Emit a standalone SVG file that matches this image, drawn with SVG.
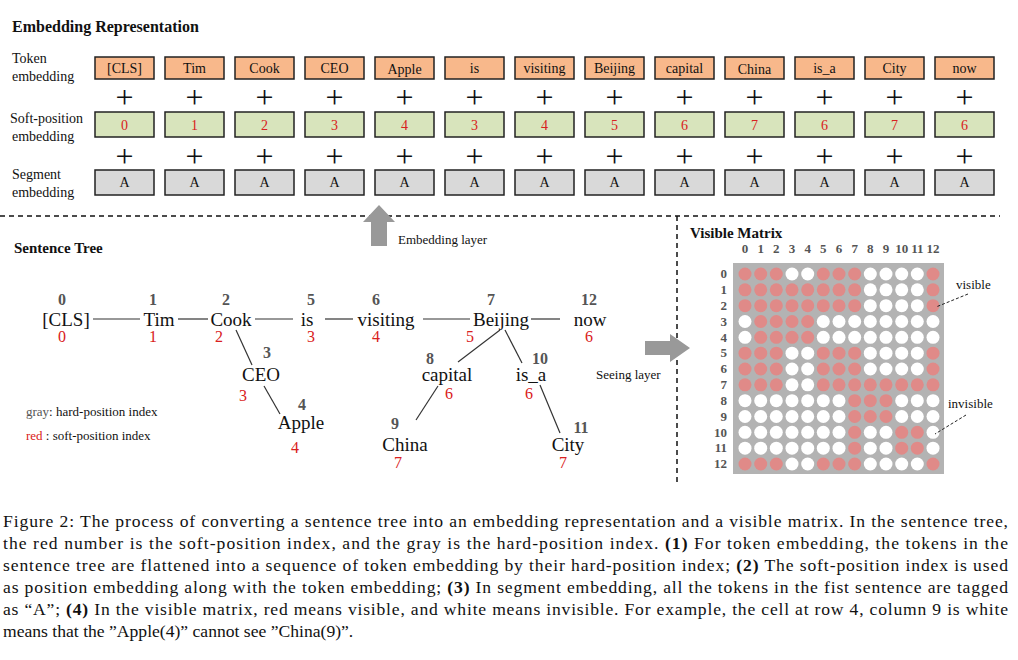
<svg xmlns="http://www.w3.org/2000/svg" width="1018" height="660" viewBox="0 0 1018 660">
<style>
text{font-family:"Liberation Serif",serif;fill:#111}
.b{font-weight:bold}
.tk{fill:#f8b88b;stroke:#222;stroke-width:1.5}
.sp{fill:#d8e4bc;stroke:#222;stroke-width:1.5}
.sg{fill:#d9d9d9;stroke:#222;stroke-width:1.5}
.bt{font-size:14px;text-anchor:middle}
.rd{fill:#d92020}
.gr{fill:#555;font-weight:bold}
.pl{font-size:32px;text-anchor:middle}
.ln{stroke:#333;stroke-width:1.2;fill:none}
.tn{font-size:19px;text-anchor:middle}
.nm{font-size:16px;text-anchor:middle}
.cap{font-size:17.6px}
.mx{font-size:13px}
.R{fill:#e08a88}.W{fill:#fff}
</style>
<rect width="1018" height="660" fill="#fff"/>
<text x="12" y="32" class="b" font-size="16">Embedding Representation</text>
<text x="12" y="63" font-size="14">Token</text><text x="12" y="81" font-size="14">embedding</text>
<text x="10" y="123" font-size="14">Soft-position</text><text x="12" y="141" font-size="14">embedding</text>
<text x="12" y="179" font-size="14">Segment</text><text x="12" y="197" font-size="14">embedding</text>
<g id="embedding-rows">
<g id="tokens">
<rect class="tk" x="95" y="57" width="59" height="22"/><text class="bt" x="124.5" y="73">[CLS]</text>
<rect class="tk" x="165" y="57" width="59" height="22"/><text class="bt" x="194.5" y="73">Tim</text>
<rect class="tk" x="235" y="57" width="59" height="22"/><text class="bt" x="264.5" y="73">Cook</text>
<rect class="tk" x="305" y="57" width="59" height="22"/><text class="bt" x="334.5" y="73">CEO</text>
<rect class="tk" x="375" y="57" width="59" height="22"/><text class="bt" x="404.5" y="74">Apple</text>
<rect class="tk" x="445" y="57" width="59" height="22"/><text class="bt" x="474.5" y="73">is</text>
<rect class="tk" x="515" y="57" width="59" height="22"/><text class="bt" x="544.5" y="73">visiting</text>
<rect class="tk" x="585" y="57" width="59" height="22"/><text class="bt" x="614.5" y="73">Beijing</text>
<rect class="tk" x="655" y="57" width="59" height="22"/><text class="bt" x="684.5" y="73">capital</text>
<rect class="tk" x="725" y="57" width="59" height="22"/><text class="bt" x="754.5" y="74">China</text>
<rect class="tk" x="795" y="57" width="59" height="22"/><text class="bt" x="824.5" y="73">is_a</text>
<rect class="tk" x="865" y="57" width="59" height="22"/><text class="bt" x="894.5" y="73">City</text>
<rect class="tk" x="935" y="57" width="59" height="22"/><text class="bt" x="964.5" y="73">now</text>
</g>
<g id="plus">
<text class="pl" x="124.5" y="108">+</text><text class="pl" x="194.5" y="108">+</text><text class="pl" x="264.5" y="108">+</text><text class="pl" x="334.5" y="108">+</text><text class="pl" x="404.5" y="108">+</text><text class="pl" x="474.5" y="108">+</text><text class="pl" x="544.5" y="108">+</text><text class="pl" x="614.5" y="108">+</text><text class="pl" x="684.5" y="108">+</text><text class="pl" x="754.5" y="108">+</text><text class="pl" x="824.5" y="108">+</text><text class="pl" x="894.5" y="108">+</text><text class="pl" x="964.5" y="108">+</text>
<text class="pl" x="124.5" y="167">+</text><text class="pl" x="194.5" y="167">+</text><text class="pl" x="264.5" y="167">+</text><text class="pl" x="334.5" y="167">+</text><text class="pl" x="404.5" y="167">+</text><text class="pl" x="474.5" y="167">+</text><text class="pl" x="544.5" y="167">+</text><text class="pl" x="614.5" y="167">+</text><text class="pl" x="684.5" y="167">+</text><text class="pl" x="754.5" y="167">+</text><text class="pl" x="824.5" y="167">+</text><text class="pl" x="894.5" y="167">+</text><text class="pl" x="964.5" y="167">+</text>
</g>
<g id="softpos">
<rect class="sp" x="95" y="112" width="59" height="25"/><text class="bt rd" x="124.5" y="130">0</text>
<rect class="sp" x="165" y="112" width="59" height="25"/><text class="bt rd" x="194.5" y="130">1</text>
<rect class="sp" x="235" y="112" width="59" height="25"/><text class="bt rd" x="264.5" y="130">2</text>
<rect class="sp" x="305" y="112" width="59" height="25"/><text class="bt rd" x="334.5" y="130">3</text>
<rect class="sp" x="375" y="112" width="59" height="25"/><text class="bt rd" x="404.5" y="130">4</text>
<rect class="sp" x="445" y="112" width="59" height="25"/><text class="bt rd" x="474.5" y="130">3</text>
<rect class="sp" x="515" y="112" width="59" height="25"/><text class="bt rd" x="544.5" y="130">4</text>
<rect class="sp" x="585" y="112" width="59" height="25"/><text class="bt rd" x="614.5" y="130">5</text>
<rect class="sp" x="655" y="112" width="59" height="25"/><text class="bt rd" x="684.5" y="130">6</text>
<rect class="sp" x="725" y="112" width="59" height="25"/><text class="bt rd" x="754.5" y="130">7</text>
<rect class="sp" x="795" y="112" width="59" height="25"/><text class="bt rd" x="824.5" y="130">6</text>
<rect class="sp" x="865" y="112" width="59" height="25"/><text class="bt rd" x="894.5" y="130">7</text>
<rect class="sp" x="935" y="112" width="59" height="25"/><text class="bt rd" x="964.5" y="130">6</text>
</g>
<g id="segment">
<rect class="sg" x="95" y="170" width="59" height="25"/><text class="bt" x="124.5" y="187" font-size="13">A</text>
<rect class="sg" x="165" y="170" width="59" height="25"/><text class="bt" x="194.5" y="187" font-size="13">A</text>
<rect class="sg" x="235" y="170" width="59" height="25"/><text class="bt" x="264.5" y="187" font-size="13">A</text>
<rect class="sg" x="305" y="170" width="59" height="25"/><text class="bt" x="334.5" y="187" font-size="13">A</text>
<rect class="sg" x="375" y="170" width="59" height="25"/><text class="bt" x="404.5" y="187" font-size="13">A</text>
<rect class="sg" x="445" y="170" width="59" height="25"/><text class="bt" x="474.5" y="187" font-size="13">A</text>
<rect class="sg" x="515" y="170" width="59" height="25"/><text class="bt" x="544.5" y="187" font-size="13">A</text>
<rect class="sg" x="585" y="170" width="59" height="25"/><text class="bt" x="614.5" y="187" font-size="13">A</text>
<rect class="sg" x="655" y="170" width="59" height="25"/><text class="bt" x="684.5" y="187" font-size="13">A</text>
<rect class="sg" x="725" y="170" width="59" height="25"/><text class="bt" x="754.5" y="187" font-size="13">A</text>
<rect class="sg" x="795" y="170" width="59" height="25"/><text class="bt" x="824.5" y="187" font-size="13">A</text>
<rect class="sg" x="865" y="170" width="59" height="25"/><text class="bt" x="894.5" y="187" font-size="13">A</text>
<rect class="sg" x="935" y="170" width="59" height="25"/><text class="bt" x="964.5" y="187" font-size="13">A</text>
</g>
</g>
<g id="dividers" stroke="#111" stroke-width="1.5" stroke-dasharray="5,4">
<line x1="0" y1="216" x2="1000" y2="216"/>
<line x1="677" y1="216" x2="677" y2="482"/>
</g>
<text x="14" y="253" class="b" font-size="15">Sentence Tree</text>
<text x="690" y="238" class="b" font-size="15">Visible Matrix</text>
<g id="arrows" fill="#999">
<polygon points="371,246 387,246 387,222 395,222 379,205 363,222 371,222"/>
<polygon points="645,341 670,341 670,334 690,348 670,362 670,355 645,355"/>
</g>
<text x="398" y="244" font-size="13">Embedding layer</text>
<text x="596" y="379" font-size="13">Seeing layer</text>
<g id="tree">
<g id="connectors">
<line class="ln" x1="93" y1="319" x2="140" y2="319"/>
<line class="ln" x1="178" y1="319" x2="208" y2="319"/>
<line class="ln" x1="255" y1="319" x2="293" y2="319"/>
<line class="ln" x1="325" y1="319" x2="353" y2="319"/>
<line class="ln" x1="423" y1="319" x2="470" y2="319"/>
<line class="ln" x1="531" y1="319" x2="560" y2="319"/>
<line class="ln" x1="236" y1="330" x2="252" y2="365"/>
<line class="ln" x1="264" y1="386" x2="280" y2="414"/>
<line class="ln" x1="500" y1="330" x2="458" y2="362"/>
<line class="ln" x1="505" y1="330" x2="522" y2="363"/>
<line class="ln" x1="438" y1="386" x2="416" y2="420"/>
<line class="ln" x1="540" y1="385" x2="560" y2="433"/>
</g>
<g id="n0"><text class="nm gr" x="62" y="305">0</text><text class="tn" x="66" y="326">[CLS]</text><text class="nm rd" x="62" y="342">0</text></g>
<g id="n1"><text class="nm gr" x="153" y="305">1</text><text class="tn" x="159" y="326">Tim</text><text class="nm rd" x="153" y="342">1</text></g>
<g id="n2"><text class="nm gr" x="226" y="305">2</text><text class="tn" x="231" y="326">Cook</text><text class="nm rd" x="219" y="342">2</text></g>
<g id="n5"><text class="nm gr" x="311" y="305">5</text><text class="tn" x="307" y="326">is</text><text class="nm rd" x="311" y="342">3</text></g>
<g id="n6"><text class="nm gr" x="376" y="305">6</text><text class="tn" x="386" y="326">visiting</text><text class="nm rd" x="376" y="342">4</text></g>
<g id="n7"><text class="nm gr" x="491" y="305">7</text><text class="tn" x="501" y="326">Beijing</text><text class="nm rd" x="470" y="342">5</text></g>
<g id="n12"><text class="nm gr" x="589" y="305">12</text><text class="tn" x="590" y="326">now</text><text class="nm rd" x="589" y="342">6</text></g>
<g id="n3"><text class="nm gr" x="267" y="358">3</text><text class="tn" x="261" y="381">CEO</text><text class="nm rd" x="243" y="401">3</text></g>
<g id="n4"><text class="nm gr" x="302" y="410">4</text><text class="tn" x="301" y="429">Apple</text><text class="nm rd" x="295" y="453">4</text></g>
<g id="n8"><text class="nm gr" x="430" y="364">8</text><text class="tn" x="447" y="381">capital</text><text class="nm rd" x="449" y="399">6</text></g>
<g id="n10"><text class="nm gr" x="540" y="364">10</text><text class="tn" x="531" y="381">is_a</text><text class="nm rd" x="529" y="399">6</text></g>
<g id="n9"><text class="nm gr" x="395" y="429">9</text><text class="tn" x="405" y="451">China</text><text class="nm rd" x="398" y="468">7</text></g>
<g id="n11"><text class="nm gr" x="581" y="433">11</text><text class="tn" x="568" y="451">City</text><text class="nm rd" x="563" y="468">7</text></g>
</g>
<text x="26" y="416" font-size="13"><tspan fill="#555">gray</tspan>: hard-position index</text>
<text x="26" y="440" font-size="13"><tspan class="rd">red</tspan>  : soft-position index</text>
<g id="matrix">
<rect x="733" y="263" width="211" height="211" fill="#b3b3b3"/>
<g text-anchor="middle">
<text x="745" y="253" class="gr mx">0</text><text x="760.7" y="253" class="gr mx">1</text><text x="776.3" y="253" class="gr mx">2</text><text x="792" y="253" class="gr mx">3</text><text x="807.7" y="253" class="gr mx">4</text><text x="823.3" y="253" class="gr mx">5</text><text x="839" y="253" class="gr mx">6</text><text x="854.7" y="253" class="gr mx">7</text><text x="870.3" y="253" class="gr mx">8</text><text x="886" y="253" class="gr mx">9</text><text x="901.7" y="253" class="gr mx">10</text><text x="917.3" y="253" class="gr mx">11</text><text x="933" y="253" class="gr mx">12</text>
</g>
<g text-anchor="end">
<text x="727" y="278" class="gr mx">0</text><text x="727" y="294" class="gr mx">1</text><text x="727" y="310" class="gr mx">2</text><text x="727" y="326" class="gr mx">3</text><text x="727" y="342" class="gr mx">4</text><text x="727" y="357" class="gr mx">5</text><text x="727" y="373" class="gr mx">6</text><text x="727" y="389" class="gr mx">7</text><text x="727" y="405" class="gr mx">8</text><text x="727" y="421" class="gr mx">9</text><text x="727" y="437" class="gr mx">10</text><text x="727" y="452" class="gr mx">11</text><text x="727" y="468" class="gr mx">12</text>
</g>
<g id="cells">
<circle class="R" cx="745" cy="274" r="6.5"/><circle class="R" cx="760.7" cy="274" r="6.5"/><circle class="R" cx="776.3" cy="274" r="6.5"/><circle class="W" cx="792" cy="274" r="6.5"/><circle class="W" cx="807.7" cy="274" r="6.5"/><circle class="R" cx="823.3" cy="274" r="6.5"/><circle class="R" cx="839" cy="274" r="6.5"/><circle class="R" cx="854.7" cy="274" r="6.5"/><circle class="W" cx="870.3" cy="274" r="6.5"/><circle class="W" cx="886" cy="274" r="6.5"/><circle class="W" cx="901.7" cy="274" r="6.5"/><circle class="W" cx="917.3" cy="274" r="6.5"/><circle class="R" cx="933" cy="274" r="6.5"/>
<circle class="R" cx="745" cy="289.8" r="6.5"/><circle class="R" cx="760.7" cy="289.8" r="6.5"/><circle class="R" cx="776.3" cy="289.8" r="6.5"/><circle class="R" cx="792" cy="289.8" r="6.5"/><circle class="R" cx="807.7" cy="289.8" r="6.5"/><circle class="R" cx="823.3" cy="289.8" r="6.5"/><circle class="R" cx="839" cy="289.8" r="6.5"/><circle class="R" cx="854.7" cy="289.8" r="6.5"/><circle class="W" cx="870.3" cy="289.8" r="6.5"/><circle class="W" cx="886" cy="289.8" r="6.5"/><circle class="W" cx="901.7" cy="289.8" r="6.5"/><circle class="W" cx="917.3" cy="289.8" r="6.5"/><circle class="R" cx="933" cy="289.8" r="6.5"/>
<circle class="R" cx="745" cy="305.7" r="6.5"/><circle class="R" cx="760.7" cy="305.7" r="6.5"/><circle class="R" cx="776.3" cy="305.7" r="6.5"/><circle class="R" cx="792" cy="305.7" r="6.5"/><circle class="R" cx="807.7" cy="305.7" r="6.5"/><circle class="R" cx="823.3" cy="305.7" r="6.5"/><circle class="R" cx="839" cy="305.7" r="6.5"/><circle class="R" cx="854.7" cy="305.7" r="6.5"/><circle class="W" cx="870.3" cy="305.7" r="6.5"/><circle class="W" cx="886" cy="305.7" r="6.5"/><circle class="W" cx="901.7" cy="305.7" r="6.5"/><circle class="W" cx="917.3" cy="305.7" r="6.5"/><circle class="R" cx="933" cy="305.7" r="6.5"/>
<circle class="W" cx="745" cy="321.5" r="6.5"/><circle class="R" cx="760.7" cy="321.5" r="6.5"/><circle class="R" cx="776.3" cy="321.5" r="6.5"/><circle class="R" cx="792" cy="321.5" r="6.5"/><circle class="R" cx="807.7" cy="321.5" r="6.5"/><circle class="W" cx="823.3" cy="321.5" r="6.5"/><circle class="W" cx="839" cy="321.5" r="6.5"/><circle class="W" cx="854.7" cy="321.5" r="6.5"/><circle class="W" cx="870.3" cy="321.5" r="6.5"/><circle class="W" cx="886" cy="321.5" r="6.5"/><circle class="W" cx="901.7" cy="321.5" r="6.5"/><circle class="W" cx="917.3" cy="321.5" r="6.5"/><circle class="W" cx="933" cy="321.5" r="6.5"/>
<circle class="W" cx="745" cy="337.3" r="6.5"/><circle class="R" cx="760.7" cy="337.3" r="6.5"/><circle class="R" cx="776.3" cy="337.3" r="6.5"/><circle class="R" cx="792" cy="337.3" r="6.5"/><circle class="R" cx="807.7" cy="337.3" r="6.5"/><circle class="W" cx="823.3" cy="337.3" r="6.5"/><circle class="W" cx="839" cy="337.3" r="6.5"/><circle class="W" cx="854.7" cy="337.3" r="6.5"/><circle class="W" cx="870.3" cy="337.3" r="6.5"/><circle class="W" cx="886" cy="337.3" r="6.5"/><circle class="W" cx="901.7" cy="337.3" r="6.5"/><circle class="W" cx="917.3" cy="337.3" r="6.5"/><circle class="W" cx="933" cy="337.3" r="6.5"/>
<circle class="R" cx="745" cy="353.2" r="6.5"/><circle class="R" cx="760.7" cy="353.2" r="6.5"/><circle class="R" cx="776.3" cy="353.2" r="6.5"/><circle class="W" cx="792" cy="353.2" r="6.5"/><circle class="W" cx="807.7" cy="353.2" r="6.5"/><circle class="R" cx="823.3" cy="353.2" r="6.5"/><circle class="R" cx="839" cy="353.2" r="6.5"/><circle class="R" cx="854.7" cy="353.2" r="6.5"/><circle class="W" cx="870.3" cy="353.2" r="6.5"/><circle class="W" cx="886" cy="353.2" r="6.5"/><circle class="W" cx="901.7" cy="353.2" r="6.5"/><circle class="W" cx="917.3" cy="353.2" r="6.5"/><circle class="R" cx="933" cy="353.2" r="6.5"/>
<circle class="R" cx="745" cy="369" r="6.5"/><circle class="R" cx="760.7" cy="369" r="6.5"/><circle class="R" cx="776.3" cy="369" r="6.5"/><circle class="W" cx="792" cy="369" r="6.5"/><circle class="W" cx="807.7" cy="369" r="6.5"/><circle class="R" cx="823.3" cy="369" r="6.5"/><circle class="R" cx="839" cy="369" r="6.5"/><circle class="R" cx="854.7" cy="369" r="6.5"/><circle class="W" cx="870.3" cy="369" r="6.5"/><circle class="W" cx="886" cy="369" r="6.5"/><circle class="W" cx="901.7" cy="369" r="6.5"/><circle class="W" cx="917.3" cy="369" r="6.5"/><circle class="R" cx="933" cy="369" r="6.5"/>
<circle class="R" cx="745" cy="384.8" r="6.5"/><circle class="R" cx="760.7" cy="384.8" r="6.5"/><circle class="R" cx="776.3" cy="384.8" r="6.5"/><circle class="W" cx="792" cy="384.8" r="6.5"/><circle class="W" cx="807.7" cy="384.8" r="6.5"/><circle class="R" cx="823.3" cy="384.8" r="6.5"/><circle class="R" cx="839" cy="384.8" r="6.5"/><circle class="R" cx="854.7" cy="384.8" r="6.5"/><circle class="R" cx="870.3" cy="384.8" r="6.5"/><circle class="R" cx="886" cy="384.8" r="6.5"/><circle class="R" cx="901.7" cy="384.8" r="6.5"/><circle class="R" cx="917.3" cy="384.8" r="6.5"/><circle class="R" cx="933" cy="384.8" r="6.5"/>
<circle class="W" cx="745" cy="400.7" r="6.5"/><circle class="W" cx="760.7" cy="400.7" r="6.5"/><circle class="W" cx="776.3" cy="400.7" r="6.5"/><circle class="W" cx="792" cy="400.7" r="6.5"/><circle class="W" cx="807.7" cy="400.7" r="6.5"/><circle class="W" cx="823.3" cy="400.7" r="6.5"/><circle class="W" cx="839" cy="400.7" r="6.5"/><circle class="R" cx="854.7" cy="400.7" r="6.5"/><circle class="R" cx="870.3" cy="400.7" r="6.5"/><circle class="R" cx="886" cy="400.7" r="6.5"/><circle class="W" cx="901.7" cy="400.7" r="6.5"/><circle class="W" cx="917.3" cy="400.7" r="6.5"/><circle class="W" cx="933" cy="400.7" r="6.5"/>
<circle class="W" cx="745" cy="416.5" r="6.5"/><circle class="W" cx="760.7" cy="416.5" r="6.5"/><circle class="W" cx="776.3" cy="416.5" r="6.5"/><circle class="W" cx="792" cy="416.5" r="6.5"/><circle class="W" cx="807.7" cy="416.5" r="6.5"/><circle class="W" cx="823.3" cy="416.5" r="6.5"/><circle class="W" cx="839" cy="416.5" r="6.5"/><circle class="R" cx="854.7" cy="416.5" r="6.5"/><circle class="R" cx="870.3" cy="416.5" r="6.5"/><circle class="R" cx="886" cy="416.5" r="6.5"/><circle class="W" cx="901.7" cy="416.5" r="6.5"/><circle class="W" cx="917.3" cy="416.5" r="6.5"/><circle class="W" cx="933" cy="416.5" r="6.5"/>
<circle class="W" cx="745" cy="432.3" r="6.5"/><circle class="W" cx="760.7" cy="432.3" r="6.5"/><circle class="W" cx="776.3" cy="432.3" r="6.5"/><circle class="W" cx="792" cy="432.3" r="6.5"/><circle class="W" cx="807.7" cy="432.3" r="6.5"/><circle class="W" cx="823.3" cy="432.3" r="6.5"/><circle class="W" cx="839" cy="432.3" r="6.5"/><circle class="R" cx="854.7" cy="432.3" r="6.5"/><circle class="W" cx="870.3" cy="432.3" r="6.5"/><circle class="W" cx="886" cy="432.3" r="6.5"/><circle class="R" cx="901.7" cy="432.3" r="6.5"/><circle class="R" cx="917.3" cy="432.3" r="6.5"/><circle class="W" cx="933" cy="432.3" r="6.5"/>
<circle class="W" cx="745" cy="448.2" r="6.5"/><circle class="W" cx="760.7" cy="448.2" r="6.5"/><circle class="W" cx="776.3" cy="448.2" r="6.5"/><circle class="W" cx="792" cy="448.2" r="6.5"/><circle class="W" cx="807.7" cy="448.2" r="6.5"/><circle class="W" cx="823.3" cy="448.2" r="6.5"/><circle class="W" cx="839" cy="448.2" r="6.5"/><circle class="R" cx="854.7" cy="448.2" r="6.5"/><circle class="W" cx="870.3" cy="448.2" r="6.5"/><circle class="W" cx="886" cy="448.2" r="6.5"/><circle class="R" cx="901.7" cy="448.2" r="6.5"/><circle class="R" cx="917.3" cy="448.2" r="6.5"/><circle class="W" cx="933" cy="448.2" r="6.5"/>
<circle class="R" cx="745" cy="464" r="6.5"/><circle class="R" cx="760.7" cy="464" r="6.5"/><circle class="R" cx="776.3" cy="464" r="6.5"/><circle class="W" cx="792" cy="464" r="6.5"/><circle class="W" cx="807.7" cy="464" r="6.5"/><circle class="R" cx="823.3" cy="464" r="6.5"/><circle class="R" cx="839" cy="464" r="6.5"/><circle class="R" cx="854.7" cy="464" r="6.5"/><circle class="W" cx="870.3" cy="464" r="6.5"/><circle class="W" cx="886" cy="464" r="6.5"/><circle class="W" cx="901.7" cy="464" r="6.5"/><circle class="W" cx="917.3" cy="464" r="6.5"/><circle class="R" cx="933" cy="464" r="6.5"/>
</g>
</g>
<text x="956" y="289" font-size="13">visible</text>
<text x="948" y="408" font-size="13">invisible</text>
<g stroke="#222" stroke-width="1" stroke-dasharray="3,2">
<line x1="968" y1="294" x2="936" y2="307"/>
<line x1="966" y1="415" x2="935" y2="434"/>
</g>
<g id="caption" class="cap">
<text x="3" y="527" textLength="1005" lengthAdjust="spacing">Figure 2: The process of converting a sentence tree into an embedding representation and a visible matrix. In the sentence tree,</text>
<text x="3" y="549" textLength="1005" lengthAdjust="spacing">the red number is the soft-position index, and the gray is the hard-position index. <tspan class="b">(1)</tspan> For token embedding, the tokens in the</text>
<text x="3" y="571" textLength="1005" lengthAdjust="spacing">sentence tree are flattened into a sequence of token embedding by their hard-position index; <tspan class="b">(2)</tspan> The soft-position index is used</text>
<text x="3" y="593" textLength="1005" lengthAdjust="spacing">as position embedding along with the token embedding; <tspan class="b">(3)</tspan> In segment embedding, all the tokens in the fist sentence are tagged</text>
<text x="3" y="615" textLength="1005" lengthAdjust="spacing">as “A”; <tspan class="b">(4)</tspan> In the visible matrix, red means visible, and white means invisible. For example, the cell at row 4, column 9 is white</text>
<text x="3" y="637">means that the ”Apple(4)” cannot see ”China(9)”.</text>
</g>
</svg>
